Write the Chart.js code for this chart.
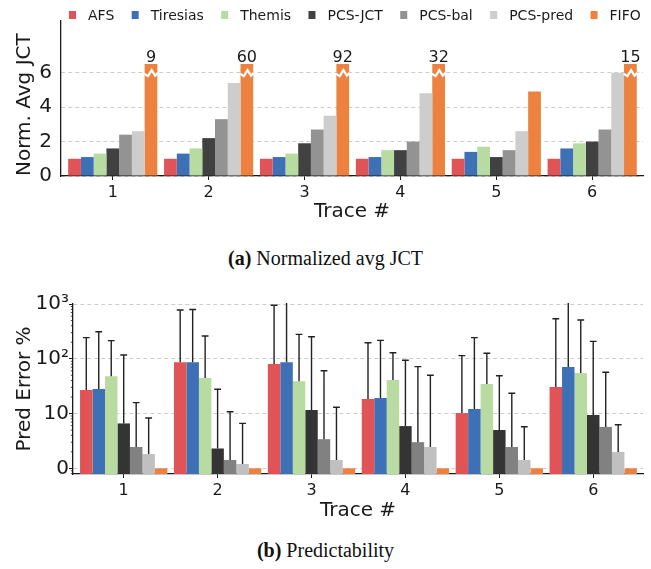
<!DOCTYPE html>
<html>
<head>
<meta charset="utf-8">
<script src="https://cdn.jsdelivr.net/npm/chart.js@4.4.1/dist/chart.umd.min.js"></script>
<style>
  html, body { margin: 0; padding: 0; background: #fff; }
  body { width: 651px; height: 569px; position: relative; overflow: hidden; }
  .box { position: absolute; left: 0; width: 651px; }
  .cap { position: absolute; left: 0; width: 651px; text-align: center;
         font-family: "Liberation Serif", "Times New Roman", serif; font-size: 20px;
         line-height: 24px; color: #111; }
</style>
</head>
<body>
<div class="box" style="top:0;height:232px"><canvas id="jct"></canvas></div>
<div class="cap" style="top:246px"><b>(a)</b> Normalized avg JCT</div>
<div class="box" style="top:280px;height:250px"><canvas id="err"></canvas></div>
<div class="cap" style="top:538px"><b>(b)</b> Predictability</div>
<script>
// ---------- data ----------
const traces = ['1', '2', '3', '4', '5', '6'];
const schedulers = ['AFS', 'Tiresias', 'Themis', 'PCS-JCT', 'PCS-bal', 'PCS-pred', 'FIFO'];

// (a) normalized average JCT
const jctAFS      = [1.0, 1.0, 1.0, 1.0, 1.0, 1.0];
const jctTiresias = [1.1, 1.3, 1.1, 1.1, 1.4, 1.6];
const jctThemis   = [1.3, 1.6, 1.3, 1.5, 1.7, 1.9];
const jctPcsJct   = [1.6, 2.2, 1.9, 1.5, 1.1, 2.0];
const jctPcsBal   = [2.4, 3.3, 2.7, 2.0, 1.5, 2.7];
const jctPcsPred  = [2.6, 5.4, 3.5, 4.8, 2.6, 6.0];
const jctFifo     = [9, 60, 92, 32, 4.9, 15];
const jctBreakAt  = 6.5;   // bars above this value are cut (broken axis)
const jctBreakMark = 6;    // where the break symbol is drawn
const jctTicks    = [0, 2, 4, 6];

// (b) prediction error % (bar = value, whisker top = upper error)
const errAFS        = [27, 86, 80, 18.4, 10.2, 30.5];
const errAFSHi      = [243, 776, 946, 196, 114, 539];
const errTiresias   = [28, 86, 86, 19.2, 12.1, 71];
const errTiresiasHi = [312, 796, 1500, 217, 243, 1200];
const errThemis     = [48, 44.6, 39, 41, 34.6, 55];
const errThemisHi   = [214, 260, 279, 129, 126, 510];
const errPcsJct     = [6.6, 2.3, 11.6, 5.9, 5.0, 9.4];
const errPcsJctHi   = [117, 27.7, 253, 94, 49, 208];
const errPcsBal     = [2.45, 1.42, 3.4, 3.0, 2.45, 5.7];
const errPcsBalHi   = [15.8, 10.8, 60.5, 72, 23.4, 56.6];
const errPcsPred    = [1.82, 1.2, 1.42, 2.45, 1.42, 1.99];
const errPcsPredHi  = [8.3, 6.6, 13, 50, 5.75, 6.25];
const errFifo       = [1, 1, 1, 1, 1, 1];
const errFifoHi     = [null, null, null, null, null, null];
const errTickValues = [1, 10, 100, 1000];
const errTickLabels = ['0', '10', '10²', '10³'];

// ---------- styles ----------
const colorsA = ['#e05457', '#3e70b5', '#b7dba0', '#414141', '#939393', '#cdcdcd', '#ec8140'];
const colorsB = ['#e05457', '#3e70b5', '#b7dba0', '#343434', '#818181', '#c0c0c0', '#ec8140'];
const INK = '#1a1a1a';
const GRID = 'rgba(0,0,0,0.2)';

Chart.defaults.font.family = '"DejaVu Sans", sans-serif';
Chart.defaults.color = INK;

const jctSeries = [jctAFS, jctTiresias, jctThemis, jctPcsJct, jctPcsBal, jctPcsPred,
                   jctFifo.map(v => Math.min(v, jctBreakAt))];
const errSeries = [errAFS, errTiresias, errThemis, errPcsJct, errPcsBal, errPcsPred, errFifo];
const errHighs  = [errAFSHi, errTiresiasHi, errThemisHi, errPcsJctHi, errPcsBalHi, errPcsPredHi, errFifoHi];

function toPoints(arr) { return arr.map((v, i) => ({ x: i, y: v })); }

function xScale(axisHeight, titlePadBottom) {
  return {
    type: 'linear', min: -0.54, max: 5.53, offset: false,
    afterBuildTicks: s => { s.ticks = traces.map((t, i) => ({ value: i })); },
    afterFit: s => { s.height = axisHeight; },
    ticks: { callback: (v, i) => traces[i], font: { size: 16 }, padding: 3, maxRotation: 0, autoSkip: false, color: INK },
    grid: { display: true, drawOnChartArea: false, drawTicks: true, tickLength: 4, tickColor: INK, tickWidth: 1, offset: false },
    border: { display: true, color: INK, width: 1.3 },
    title: { display: true, text: 'Trace #', font: { size: 20 }, color: INK, padding: { top: 0, bottom: titlePadBottom } }
  };
}

// ---------- plugins ----------
const legendPlugin = {
  id: 'inlineLegend',
  afterDraw(chart) {
    const ctx = chart.ctx;
    ctx.save();
    ctx.font = '14px "DejaVu Sans"';
    ctx.textBaseline = 'middle';
    let x = chart.chartArea.left + 8;
    const y = 15;
    chart.data.datasets.forEach(ds => {
      ctx.fillStyle = ds.backgroundColor;
      ctx.fillRect(x, y - 4, 7, 8);
      ctx.fillStyle = INK;
      ctx.fillText(ds.label, x + 19, y + 1);
      x += 19 + ctx.measureText(ds.label).width + 17.4;
    });
    ctx.restore();
  }
};

const breakPlugin = {
  id: 'axisBreak',
  afterDatasetsDraw(chart) {
    const ctx = chart.ctx;
    const ys = chart.scales.y;
    const meta = chart.getDatasetMeta(6);
    const yb = ys.getPixelForValue(jctBreakMark);
    ctx.save();
    meta.data.forEach((bar, i) => {
      if (jctFifo[i] <= jctBreakAt) return;
      const p = bar.getProps(['x', 'y', 'width'], true);
      const l = p.x - p.width / 2, w = p.width;
      const fx = [0, 0.28, 0.55, 0.8, 1.0];
      const fy = [1, 3.5, -2.5, 3, 0];
      ctx.strokeStyle = '#ffffff';
      ctx.lineWidth = 2.2;
      ctx.lineJoin = 'miter';
      ctx.beginPath();
      fx.forEach((f, k) => {
        const px = l - 0.5 + f * (w + 1), py = yb + fy[k];
        if (k === 0) ctx.moveTo(px, py); else ctx.lineTo(px, py);
      });
      ctx.stroke();
      ctx.fillStyle = INK;
      ctx.font = '16px "DejaVu Sans"';
      ctx.textAlign = 'center';
      ctx.textBaseline = 'alphabetic';
      ctx.fillText(String(jctFifo[i]), p.x, p.y - 2.4);
    });
    ctx.restore();
  }
};

const errorBarPlugin = {
  id: 'errorBars',
  afterDatasetsDraw(chart) {
    const ctx = chart.ctx, ys = chart.scales.y, a = chart.chartArea;
    ctx.save();
    ctx.beginPath();
    ctx.rect(a.left, a.top - 1, a.right - a.left, a.bottom - a.top + 1);
    ctx.clip();
    ctx.strokeStyle = '#222';
    ctx.lineWidth = 1.4;
    errHighs.forEach((hi, di) => {
      const meta = chart.getDatasetMeta(di);
      meta.data.forEach((bar, i) => {
        const top = hi[i];
        if (top == null) return;
        const p = bar.getProps(['x', 'y'], true);
        const yt = ys.getPixelForValue(top);
        ctx.beginPath();
        ctx.moveTo(p.x, p.y);
        ctx.lineTo(p.x, yt);
        ctx.moveTo(p.x - 3.4, yt);
        ctx.lineTo(p.x + 3.4, yt);
        ctx.stroke();
      });
    });
    ctx.restore();
  }
};

const minorTickPlugin = {
  id: 'minorTicks',
  afterDraw(chart) {
    const ctx = chart.ctx, ys = chart.scales.y, x0 = chart.chartArea.left;
    ctx.save();
    ctx.strokeStyle = INK;
    ctx.lineWidth = 0.8;
    for (let k = -1; k <= 2; k++) {
      for (let m = 2; m <= 9; m++) {
        const v = m * Math.pow(10, k);
        if (v < ys.min || v > ys.max) continue;
        const y = ys.getPixelForValue(v);
        ctx.beginPath();
        ctx.moveTo(x0 - 2.2, y);
        ctx.lineTo(x0, y);
        ctx.stroke();
      }
    }
    ctx.restore();
  }
};

// ---------- chart (a) ----------
new Chart(document.getElementById('jct'), {
  type: 'bar',
  data: {
    datasets: schedulers.map((name, i) => ({
      label: name, data: toPoints(jctSeries[i]), backgroundColor: colorsA[i],
      borderWidth: 0, categoryPercentage: 0.93, barPercentage: 1.0
    }))
  },
  options: {
    responsive: true, maintainAspectRatio: false, animation: false, devicePixelRatio: 1,
    layout: { padding: { top: 2.5, right: 8, left: 0, bottom: 0 } },
    plugins: { legend: { display: false }, tooltip: { enabled: false } },
    scales: {
      x: xScale(56, 8),
      y: {
        type: 'linear', min: 0, max: 9,
        afterBuildTicks: s => { s.ticks = jctTicks.map(v => ({ value: v })); },
        afterFit: s => { s.width = 61; },
        ticks: { font: { size: 20 }, padding: 9, color: INK },
        grid: { display: true, drawOnChartArea: true, drawTicks: false, color: GRID, lineWidth: 1 },
        border: { display: true, color: INK, width: 1.3, dash: [4, 3] },
        title: { display: true, text: 'Norm. Avg JCT', align: 'start', font: { size: 20 }, color: INK, padding: { top: 13, bottom: 0 } }
      }
    }
  },
  plugins: [legendPlugin, breakPlugin]
});

// ---------- chart (b) ----------
new Chart(document.getElementById('err'), {
  type: 'bar',
  data: {
    datasets: schedulers.map((name, i) => ({
      label: name, data: toPoints(errSeries[i]), backgroundColor: colorsB[i],
      borderWidth: 0, categoryPercentage: 0.93, barPercentage: 1.0
    }))
  },
  options: {
    responsive: true, maintainAspectRatio: false, animation: false, devicePixelRatio: 1,
    layout: { padding: { top: 24, right: 8, left: 0, bottom: 0 } },
    plugins: { legend: { display: false }, tooltip: { enabled: false } },
    scales: {
      x: xScale(56, 7.5),
      y: {
        type: 'logarithmic', min: 0.787, max: 1000,
        afterBuildTicks: s => { s.ticks = errTickValues.map(v => ({ value: v })); },
        afterFit: s => { s.width = 73; },
        ticks: { font: { size: 20 }, padding: 0, color: INK,
                 callback: (v, i) => errTickLabels[i] },
        grid: { display: true, drawOnChartArea: true, drawTicks: true, tickLength: 4,
                tickColor: INK, tickWidth: 1, color: GRID, lineWidth: 1 },
        border: { display: true, color: INK, width: 1.3, dash: [4, 3] },
        title: { display: true, text: 'Pred Error %', font: { size: 20 }, color: INK, padding: { top: 13, bottom: 0 } }
      }
    }
  },
  plugins: [errorBarPlugin, minorTickPlugin]
});
</script>
</body>
</html>
